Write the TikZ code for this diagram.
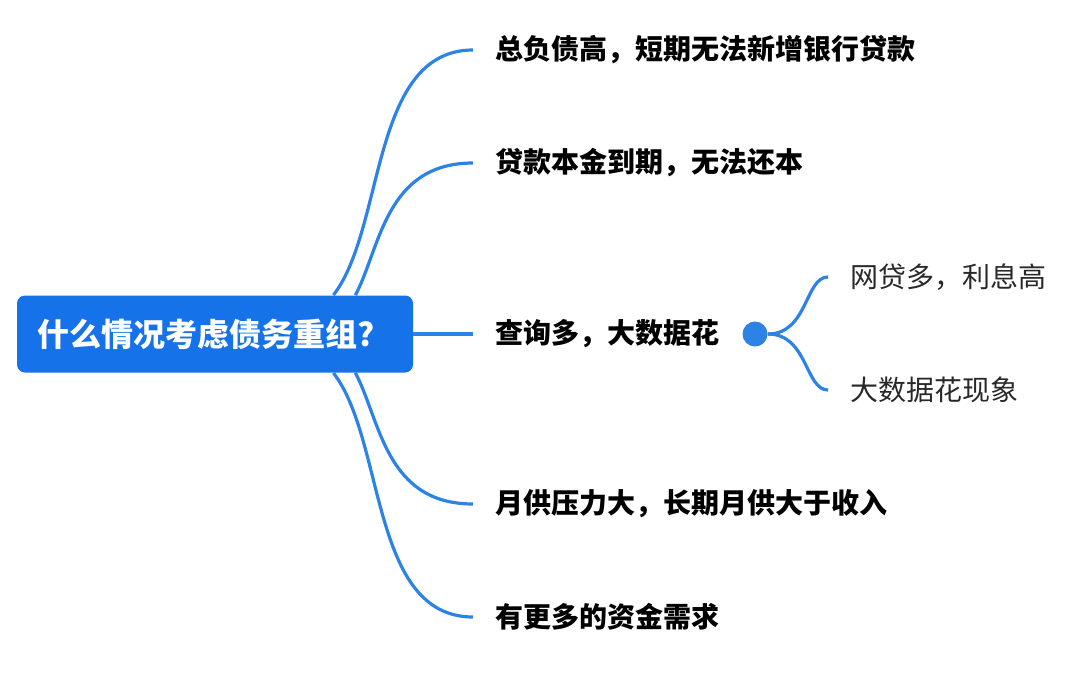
\documentclass[tikz,border=0pt]{standalone}
\usepackage{fontspec}
\setmainfont{Noto Sans CJK SC}
\usepackage{xcolor}
\definecolor{rootblue}{RGB}{22,114,232}
\definecolor{linkblue}{RGB}{45,130,230}
\definecolor{labelgray}{RGB}{40,40,40}

\begin{document}
\begin{tikzpicture}%
  [x=0.5pt,y=-0.5pt,
   link/.style={draw=linkblue,line width=1.6pt}]
  \tikzstyle{root node}=[rectangle,rounded corners=4pt,fill=rootblue,text=white,font=\fontsize{16pt}{18pt}\selectfont\bfseries,text width=178pt,align=left,minimum height=38.5pt,inner xsep=10pt,inner ysep=0]
  \tikzstyle{topic node}=[anchor=west,inner xsep=11pt,inner ysep=0,font=\fontsize{14pt}{16pt}\selectfont\bfseries,text=black]
  \tikzstyle{sub node}=[anchor=west,inner xsep=11pt,inner ysep=0,font=\fontsize{14pt}{16pt}\selectfont,text=labelgray]
  \useasboundingbox (0,0) rectangle (1080,675);
  \node(root)[root node] at (215,334){什么情况考虑债务重组?};
  \node(t1)[topic node] at (473,50){总负债高，短期无法新增银行贷款};
  \node(t2)[topic node] at (473,163){贷款本金到期，无法还本};
  \node(t3)[topic node] at (473,334){查询多，大数据花};
  \node(t4)[topic node] at (473,504){月供压力大，长期月供大于收入};
  \node(t5)[topic node] at (473,617){有更多的资金需求};
  \node(dot)[circle,fill=linkblue,minimum size=12.5pt,inner sep=0] at (755,334){};
  \node(s1)[sub node] at (828,277){网贷多，利息高};
  \node(s2)[sub node] at (828,390){大数据花现象};
  % branches
  \draw[link] ([xshift=-40pt]root.north east) .. controls +(52,-67) and +(-103,0) .. (t1.west);
  \draw[link] ([xshift=-29pt]root.north east) .. controls +(25,-47) and +(-88,0) .. (t2.west);
  \draw[link] (root.east) -- (t3.west);
  \draw[link] ([xshift=-29pt]root.south east) .. controls +(25,47) and +(-88,0) .. (t4.west);
  \draw[link] ([xshift=-40pt]root.south east) .. controls +(52,67) and +(-103,0) .. (t5.west);
  \draw[link] (dot.east) .. controls +(40,0) and +(-23,0) .. (s1.west);
  \draw[link] (dot.east) .. controls +(40,0) and +(-23,0) .. (s2.west);
\end{tikzpicture}
\end{document}
